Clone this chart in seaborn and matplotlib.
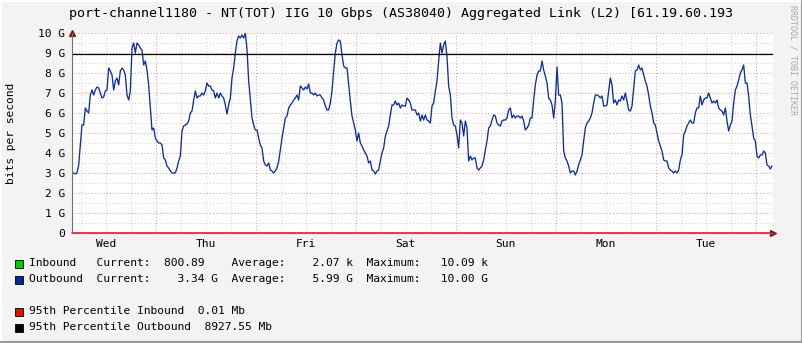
import numpy as np
import pandas as pd
import matplotlib
matplotlib.use("Agg")
import matplotlib.pyplot as plt
import seaborn as sns
from matplotlib.patches import Rectangle
from matplotlib.lines import Line2D
from matplotlib.ticker import FixedLocator, FixedFormatter

# ---------------- data (outbound traffic, Gbit/s) ----------------
sample_start_h = 3.88      # hours after Wed 00:00
sample_step_h = 0.4
outbound_part1 = [3.0, 3.0, 2.95, 3.0, 3.4, 4.4, 5.4, 5.4, 6.25, 6.1,
                  6.0, 6.9, 7.15, 6.9, 7.15, 7.3, 7.25, 7.0, 6.75, 6.8,
                  7.1, 7.15, 8.25, 8.1, 7.9, 7.15, 7.6, 7.75, 7.4, 8.1,
                  8.25, 8.15, 7.9, 6.9, 6.65, 7.1, 9.25, 9.5, 9.0, 9.5,
                  9.4, 9.25, 9.15, 8.4, 8.6, 8.15, 7.4, 6.25, 5.15, 5.25,
                  4.75, 4.6, 4.5, 4.5, 4.4, 3.75, 3.65, 3.35, 3.25, 3.1,
                  3.0, 3.0, 3.0, 3.25, 3.6, 3.85, 5.1, 5.35]
outbound_part2 = [5.4, 5.45, 5.6, 6.0, 6.1, 6.65, 7.1, 6.75, 6.85, 6.85,
                  7.0, 6.9, 7.1, 7.5, 7.35, 7.35, 7.15, 7.1, 6.75, 7.0,
                  6.75, 7.0, 6.85, 6.75, 6.4, 5.95, 6.4, 6.75, 7.75, 8.25,
                  9.0, 9.6, 9.85, 9.75, 9.9, 9.75, 10.0, 9.2, 7.6, 6.7,
                  5.75, 5.4, 5.15, 5.15, 4.75, 4.4, 4.25, 3.6, 3.4, 3.35,
                  3.5, 3.15, 3.1, 3.0, 3.1, 3.25, 3.6, 4.15, 4.75, 5.25,
                  5.75, 5.85, 6.25, 6.4, 6.5, 6.65, 6.75, 6.9, 6.65, 7.35,
                  7.25, 7.15]
outbound_part3 = [7.3, 7.2, 7.45, 7.0, 7.0, 6.9, 7.0, 6.85, 6.9, 6.9,
                  6.75, 6.65, 6.35, 6.15, 6.15, 6.5, 7.1, 8.1, 9.0, 9.5,
                  9.65, 9.6, 8.9, 8.35, 8.25, 8.25, 7.4, 6.6, 5.85, 5.5,
                  5.15, 4.6, 5.0, 4.5, 4.35, 4.15, 4.0, 3.85, 3.5, 3.6,
                  3.15, 3.1, 2.95, 3.1, 3.15, 3.6, 4.0, 4.25, 4.85, 5.1,
                  5.35, 5.9, 6.4, 6.4, 6.6, 6.4, 6.5, 6.25, 6.4, 6.35,
                  6.35, 6.75, 6.65, 6.5, 6.15, 6.15, 6.15, 5.9, 6.0, 5.6,
                  5.9, 5.65]
outbound_part4 = [5.9, 5.65, 5.6, 5.5, 6.35, 6.5, 7.1, 7.6, 8.6, 9.5,
                  9.0, 9.4, 9.6, 8.8, 7.35, 6.9, 5.75, 5.4, 5.35, 4.9,
                  4.25, 5.65, 5.5, 4.85, 5.6, 5.25, 3.6, 3.85, 3.65, 3.75,
                  3.75, 3.25, 3.15, 3.25, 3.35, 3.65, 4.15, 4.6, 5.25, 5.35,
                  5.65, 5.9, 5.85, 5.5, 5.4, 5.35, 5.6, 5.65, 5.65, 5.75,
                  6.15, 6.25, 5.75, 5.9, 5.75, 5.85, 5.85, 5.75, 5.85, 5.6,
                  5.15, 5.25, 5.4, 5.75, 5.75, 6.65, 7.4, 7.9, 8.1, 8.1,
                  8.6, 8.15]
outbound_part5 = [7.85, 7.5, 6.75, 6.65, 6.4, 5.75, 6.6, 8.3, 6.9, 6.9,
                  6.5, 4.1, 3.75, 3.6, 3.35, 3.0, 3.1, 3.1, 2.9, 3.1,
                  3.4, 3.65, 3.9, 4.6, 5.25, 5.5, 5.6, 5.75, 6.0, 6.5,
                  6.9, 6.9, 6.85, 6.75, 6.85, 6.35, 6.35, 6.4, 7.1, 7.75,
                  7.4, 6.5, 6.65, 6.4, 6.65, 6.6, 6.85, 6.65, 7.0, 6.6,
                  6.15, 6.1, 6.35, 7.25, 8.1, 8.15, 8.4, 8.15, 8.25, 7.9,
                  7.6, 7.35, 6.9, 6.35, 6.0, 5.5, 5.4, 5.0, 4.6]
outbound_part6 = [4.35, 4.1, 3.65, 3.6, 3.6, 3.25, 3.15, 3.1, 3.0, 3.1,
                  3.0, 3.15, 3.65, 3.9, 4.9, 5.1, 5.35, 5.5, 5.65, 5.5,
                  5.5, 6.0, 6.25, 6.25, 6.85, 6.4, 6.65, 6.75, 6.75, 7.0,
                  6.75, 6.5, 6.6, 6.5, 6.65, 6.25, 6.15, 6.1, 5.9, 6.25,
                  5.6, 5.1, 5.4, 5.6, 6.5, 7.15, 7.35, 7.65, 8.0, 8.15,
                  8.4, 7.5, 7.5, 6.85, 5.9, 5.35, 4.75, 4.6, 3.85, 3.75,
                  3.9, 3.9, 4.1, 4.0, 3.4, 3.35, 3.2, 3.35]

p95_inbound_mb = 0.01
p95_outbound_mb = 8927.55

day_labels = ["Wed", "Thu", "Fri", "Sat", "Sun", "Mon", "Tue"]
ytick_values = list(range(0, 11))
ytick_labels = ["0"] + [f"{v} G" for v in range(1, 11)]

title_text = "port-channel1180 - NT(TOT) IIG 10 Gbps (AS38040) Aggregated Link (L2) [61.19.60.193"
legend_rows = [
    ("#00CF00", "Inbound   Current:  800.89    Average:    2.07 k  Maximum:   10.09 k"),
    ("#002A97", "Outbound  Current:    3.34 G  Average:    5.99 G  Maximum:   10.00 G"),
    ("#FF0000", "95th Percentile Inbound  0.01 Mb"),
    ("#000000", "95th Percentile Outbound  8927.55 Mb"),
]

values = (outbound_part1 + outbound_part2 + outbound_part3 +
          outbound_part4 + outbound_part5 + outbound_part6)
hours = sample_start_h + sample_step_h * np.arange(len(values))
df = pd.DataFrame({"hours": hours, "gbps": values})

# ---------------- style ----------------
sns.set_style("white")
plt.rcParams["font.family"] = ["DejaVu Sans Mono", "DejaVu Sans"]

W, H = 803, 343
BG = "#F3F3F3"
fig = plt.figure(figsize=(W / 100, H / 100), dpi=100, facecolor=BG)

def fx(px):
    return px / W

def fy(py):
    return 1 - py / H

ax_l, ax_r, ax_t, ax_b = 72.5, 772.5, 33, 233
ax = fig.add_axes([fx(ax_l), fy(ax_b), (ax_r - ax_l) / W, (ax_b - ax_t) / H])
ax.set_facecolor("white")

x0, x1 = 4.0, 172.0
ax.set_xlim(x0, x1)
ax.set_ylim(0, 10)

# grid
mgrid = "#E7A3A3"
grid = "#D2D2D2"
dots = (0, (1, 2))
midnights = np.arange(24, 169, 24)
six_h = [h for h in np.arange(6, 172, 6) if h % 24 != 0]
ax.xaxis.set_major_locator(FixedLocator(midnights))
ax.xaxis.set_minor_locator(FixedLocator(six_h))
ax.xaxis.set_major_formatter(FixedFormatter([""] * len(midnights)))
minor_labels = []
for h in six_h:
    if h % 24 == 12:
        minor_labels.append(day_labels[int(h // 24)])
    else:
        minor_labels.append("")
ax.xaxis.set_minor_formatter(FixedFormatter(minor_labels))
ax.yaxis.set_major_locator(FixedLocator(ytick_values))
ax.yaxis.set_major_formatter(FixedFormatter(ytick_labels))
ax.yaxis.set_minor_locator(FixedLocator(np.arange(0.5, 10, 1.0)))

ax.grid(which="major", color=mgrid, linestyle=dots, linewidth=0.75)
ax.grid(which="minor", color=grid, linestyle=dots, linewidth=0.75)
ax.set_axisbelow(True)

ax.tick_params(axis="both", which="both", direction="out", color="#888888",
               width=0.75, labelsize=8.1, labelcolor="#000000")
ax.tick_params(axis="x", which="major", length=2, pad=2)
ax.tick_params(axis="x", which="minor", length=2, pad=2.2)
ax.tick_params(axis="y", which="major", length=2, pad=3.5)
ax.tick_params(axis="y", which="minor", length=0)

for s in ["top", "right"]:
    ax.spines[s].set_visible(False)
ax.spines["left"].set_color("#707070")
ax.spines["left"].set_linewidth(0.8)
ax.spines["bottom"].set_color("#707070")
ax.spines["bottom"].set_linewidth(0.8)

# data line
sns.lineplot(data=df, x="hours", y="gbps", ax=ax, color="#0B2FA0",
             linewidth=0.95, legend=False)

# percentile rules
ax.axhline(p95_outbound_mb / 1000.0, color="#000000", linewidth=0.9)
ax.axhline(p95_inbound_mb / 1000.0, color="#FF0000", linewidth=1.1, clip_on=False)

ax.set_xlabel("")
ax.set_ylabel("")

# axis arrows
ax.plot([0], [1.0], transform=ax.transAxes, marker="^", markersize=4.5,
        color="#8B1A1A", clip_on=False)
ax.plot([1.0], [0], transform=ax.transAxes, marker=">", markersize=4.5,
        color="#8B1A1A", clip_on=False)

# title, y label, watermark
fig.text(0.5, fy(13.5), title_text, ha="center", va="center", fontsize=9.6,
         color="#000000")
fig.text(fx(11.5), fy(133), "bits per second", rotation=90, ha="center",
         va="center", fontsize=8.1, color="#000000")
fig.text(fx(793), fy(60), "RRDTOOL / TOBI OETIKER", rotation=270, ha="center",
         va="center", fontsize=6, color="#A8A8A8")

# legend
row_y = [263.5, 279.5, 311.5, 327.5]
for (col, txt), yy in zip(legend_rows, row_y):
    fig.add_artist(Rectangle((fx(15), fy(yy + 4)), 8 / W, 8 / H,
                             transform=fig.transFigure, facecolor=col,
                             edgecolor="#000000", linewidth=0.6))
    fig.text(fx(29), fy(yy), txt, ha="left", va="center", fontsize=8.1,
             color="#000000")

# 3D frame
fig.add_artist(Line2D([0, 1], [fy(0.5), fy(0.5)], transform=fig.transFigure,
                      color="#FFFFFF", linewidth=1.5))
fig.add_artist(Line2D([fx(0.5), fx(0.5)], [0, 1], transform=fig.transFigure,
                      color="#FFFFFF", linewidth=1.5))
fig.add_artist(Line2D([0, 1], [fy(342), fy(342)], transform=fig.transFigure,
                      color="#9A9A9A", linewidth=1.5))
fig.add_artist(Line2D([fx(802), fx(802)], [0, 1], transform=fig.transFigure,
                      color="#9A9A9A", linewidth=1.5))

fig.savefig("out.png", dpi=100, facecolor=BG)
